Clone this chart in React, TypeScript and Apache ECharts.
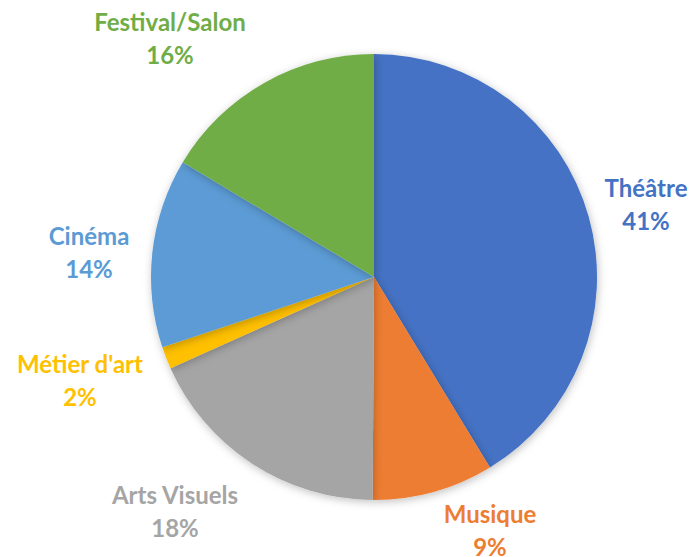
import React, { useEffect, useRef } from "react";
import * as echarts from "echarts";

const categories = ["Théâtre", "Musique", "Arts Visuels", "Métier d'art", "Cinéma", "Festival/Salon"];
const values = [41.3, 8.8, 18.2, 1.6, 13.7, 16.4];
const colors = ["#4472C4", "#ED7D31", "#A5A5A5", "#FFC000", "#5B9BD5", "#70AD47"];
const labelPositions: [number, number][] = [
  [646, 204],
  [490, 530],
  [175, 511],
  [80, 380],
  [89, 252],
  [170, 38],
];

export default function App() {
  const ref = useRef<HTMLDivElement>(null);
  useEffect(() => {
    if (!ref.current) return;
    const chart = echarts.init(ref.current, null, { renderer: "svg" });
    chart.setOption({
      animation: false,
      backgroundColor: "#ffffff",
      series: [
        {
          type: "pie",
          center: [374, 277],
          radius: 223,
          startAngle: 90,
          clockwise: true,
          data: categories.map((c, i) => ({
            name: c,
            value: values[i],
            itemStyle: { color: colors[i] },
            label: { color: colors[i] },
          })),
          itemStyle: {
            shadowBlur: 8,
            shadowColor: "rgba(0,0,0,0.25)",
            shadowOffsetX: 1,
            shadowOffsetY: 2,
          },
          label: {
            show: true,
            position: "outside",
            formatter: (p: any) => `${p.name}\n${Math.round(p.percent)}%`,
            fontFamily: "Lato, 'Open Sans', sans-serif",
            fontWeight: "bold",
            fontSize: 24,
            lineHeight: 33,
            align: "center",
            overflow: "none",
            width: 300,
          },
          labelLine: { show: false },
          labelLayout: (params: any) => {
            const pos = labelPositions[params.dataIndex];
            return { x: pos[0], y: pos[1], align: "center", verticalAlign: "middle" };
          },
          emphasis: { disabled: true },
        },
      ],
    });
    return () => chart.dispose();
  }, []);
  return <div ref={ref} style={{ width: 695, height: 557, position: "absolute", left: 0, top: 0 }} />;
}
